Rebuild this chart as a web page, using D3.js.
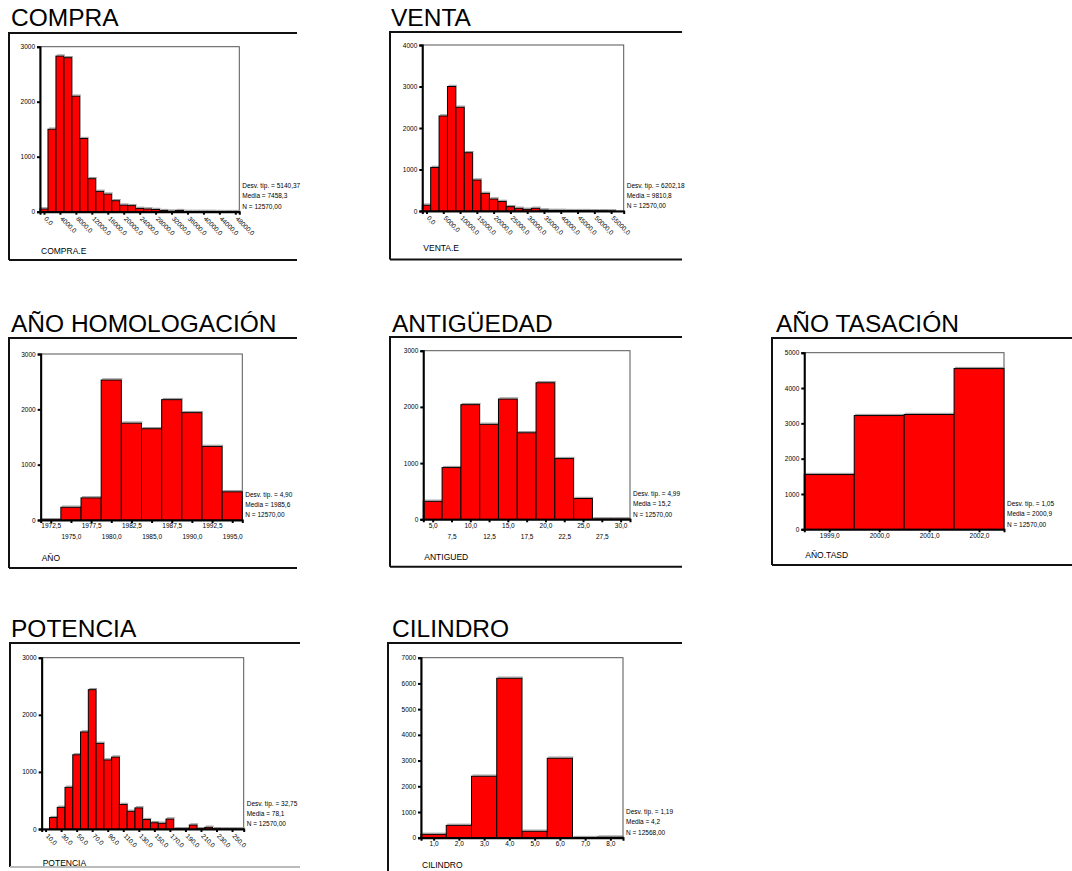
<!DOCTYPE html>
<html><head><meta charset="utf-8">
<script src="https://cdn.jsdelivr.net/npm/d3@7"></script>
<style>
body{margin:0;background:#fff;}
svg text{font-family:"Liberation Sans",Arial,sans-serif;fill:#000;}
</style>
</head><body>
<svg id="chart" width="1072" height="871"></svg>
<script>
// ---------------- DATA ----------------
const compraBins   = [0,2000,4000,6000,8000,10000,12000,14000,16000,18000,20000,22000,24000,26000,28000,30000,32000,34000,36000,38000,40000,42000,44000,46000,48000];
const compraCounts = [50,1500,2830,2800,2100,1330,600,370,320,200,120,110,60,50,40,20,10,20,5,5,5,5,3,2,2];
const compraTicks  = [0,4000,8000,12000,16000,20000,24000,28000,32000,36000,40000,44000,48000];
const compraYTicks = [0,1000,2000,3000];
const compraStats  = ["Desv. típ. = 5140,37","Media = 7458,3","N = 12570,00"];

const ventaBins   = [0,2500,5000,7500,10000,12500,15000,17500,20000,22500,25000,27500,30000,32500,35000,37500,40000,42500,45000,47500,50000,52500,55000,57500];
const ventaCounts = [140,1050,2290,3000,2500,1405,747,425,290,230,105,65,40,65,25,15,15,10,10,10,5,5,2,0];
const ventaTicks  = [0,5000,10000,15000,20000,25000,30000,35000,40000,45000,50000,55000];
const ventaYTicks = [0,1000,2000,3000,4000];
const ventaStats  = ["Desv. típ. = 6202,18","Media = 9810,8","N = 12570,00"];

const anioBins   = [1972.5,1975,1977.5,1980,1982.5,1985,1987.5,1990,1992.5,1995];
const anioCounts = [5,230,400,2530,1750,1650,2175,1940,1330,510];
const anioYTicks = [0,1000,2000,3000];
const anioStats  = ["Desv. típ. = 4,90","Media = 1985,6","N = 12570,00"];

const antigBins   = [5,7.5,10,12.5,15,17.5,20,22.5,25,27.5,30];
const antigCounts = [320,920,2040,1690,2140,1540,2430,1080,370,8,8];
const antigYTicks = [0,1000,2000,3000];
const antigStats  = ["Desv. típ. = 4,99","Media = 15,2","N = 12570,00"];

const tasBins   = [1999,2000,2001,2002];
const tasCounts = [1550,3220,3250,4550];
const tasYTicks = [0,1000,2000,3000,4000,5000];
const tasStats  = ["Desv. típ. = 1,05","Media = 2000,9","N = 12570,00"];

const potBins   = [10,20,30,40,50,60,70,80,90,100,110,120,130,140,150,160,170,180,190,200,210,220,230,240,250,260];
const potCounts = [0,200,380,730,1300,1700,2440,1500,1210,1260,430,310,370,165,110,100,175,5,5,70,5,30,5,3,3,2];
const potTicks  = [10,30,50,70,90,110,130,150,170,190,210,230,250];
const potYTicks = [0,1000,2000,3000];
const potStats  = ["Desv. típ. = 32,75","Media = 78,1","N = 12570,00"];

const cilBins   = [1,2,3,4,5,6,7,8];
const cilCounts = [130,480,2390,6200,250,3090,5,23];
const cilYTicks = [0,1000,2000,3000,4000,5000,6000,7000];
const cilStats  = ["Desv. típ. = 1,19","Media = 4,2","N = 12568,00"];

// ---------------- LAYOUT ----------------
const panels = [
  {title:"COMPRA", axisTitle:"COMPRA.E", bins:compraBins, counts:compraCounts, ticks:compraTicks, yTicks:compraYTicks, stats:compraStats, mode:"rot",
   titlePos:[11,26], box:[9,33,297,260], plot:[40,46.7,239.3,211.7], atY:253.5},
  {title:"VENTA", axisTitle:"VENTA.E", bins:ventaBins, counts:ventaCounts, ticks:ventaTicks, yTicks:ventaYTicks, stats:ventaStats, mode:"rot",
   titlePos:[391,26], box:[390,32,682,259.5], plot:[422.3,45,623.7,211], atY:251},
  {title:"AÑO HOMOLOGACIÓN", axisTitle:"AÑO", bins:anioBins, counts:anioCounts, ticks:anioBins, yTicks:anioYTicks, stats:anioStats, mode:"alt",
   titlePos:[11,332], box:[9,338,297,568], plot:[40.7,354,242.3,520], atY:561},
  {title:"ANTIGÜEDAD", axisTitle:"ANTIGUED", bins:antigBins, counts:antigCounts, ticks:antigBins, yTicks:antigYTicks, stats:antigStats, mode:"alt",
   titlePos:[392,332], box:[390,337,682,566.7], plot:[423.3,350.7,630,519.3], atY:559.5},
  {title:"AÑO TASACIÓN", axisTitle:"AÑO.TASD", bins:tasBins, counts:tasCounts, ticks:tasBins, yTicks:tasYTicks, stats:tasStats, mode:"flat",
   titlePos:[776,332], box:[772,338,1072,565], plot:[804.3,352.7,1004,529.3], atY:558},
  {title:"POTENCIA", axisTitle:"POTENCIA", bins:potBins, counts:potCounts, ticks:potTicks, yTicks:potYTicks, stats:potStats, mode:"rot",
   titlePos:[11,637], box:[10,643,300,867], plot:[41.7,657.7,243.7,829], boxBottomColor:"#bbb", atY:865.5},
  {title:"CILINDRO", axisTitle:"CILINDRO", bins:cilBins, counts:cilCounts, ticks:cilBins, yTicks:cilYTicks, stats:cilStats, mode:"flat",
   titlePos:[392,637], box:[388,643,682,875], plot:[421,657.7,623,837.7], atY:868}
];

const svg = d3.select("#chart");
const fmtX = v => d3.format(".1f")(v).replace(".", ",");

panels.forEach(p => {
  const g = svg.append("g");
  const [bx0,by0,bx1,by1] = p.box;
  const [px0,py0,px1,py1] = p.plot;

  // title
  g.append("text").attr("x",p.titlePos[0]).attr("y",p.titlePos[1])
    .attr("font-size",24.5).text(p.title);

  // outer frame (left, top, bottom)
  g.append("path").attr("d",`M${bx1},${by0}H${bx0}V${by1}`)
    .attr("fill","none").attr("stroke","#111").attr("stroke-width",2);
  g.append("line").attr("x1",bx0).attr("x2",bx1).attr("y1",by1).attr("y2",by1)
    .attr("stroke",p.boxBottomColor||"#111").attr("stroke-width",2);

  const w = p.bins[1]-p.bins[0];
  const x = d3.scaleLinear()
    .domain([p.bins[0]-w/2, p.bins[p.bins.length-1]+w/2])
    .range([px0,px1]);
  const yMax = p.yTicks[p.yTicks.length-1];
  const y = d3.scaleLinear().domain([0,yMax]).range([py1,py0]);

  // plot frame
  g.append("rect").attr("x",px0).attr("y",py0).attr("width",px1-px0).attr("height",py1-py0)
    .attr("fill","none").attr("stroke","#555").attr("stroke-width",1);

  const data = p.bins.map((b,i)=>({b, c:p.counts[i]}));
  // shadows
  g.selectAll(".sh").data(data.filter(d=>d.c>0)).enter().append("line")
    .attr("x1",d=>x(d.b-w/2)+1).attr("x2",d=>x(d.b+w/2)+1)
    .attr("y1",d=>y(d.c)-1.2).attr("y2",d=>y(d.c)-1.2)
    .attr("stroke","#999").attr("stroke-width",1);
  // bars
  g.selectAll(".bar").data(data.filter(d=>d.c>0)).enter().append("rect")
    .attr("x",d=>x(d.b-w/2)).attr("width",d=>x(d.b+w/2)-x(d.b-w/2))
    .attr("y",d=>y(d.c)).attr("height",d=>y(0)-y(d.c))
    .attr("fill","#ff0000").attr("stroke","#000").attr("stroke-width",1);

  // y axis
  const ya = g.append("g").attr("transform",`translate(${px0},0)`)
    .call(d3.axisLeft(y).tickValues(p.yTicks).tickSize(3).tickPadding(2).tickFormat(d3.format("d")));
  ya.select(".domain").attr("stroke","#000").attr("stroke-width",2);
  ya.selectAll(".tick line").attr("stroke","#000").attr("stroke-width",2);
  ya.selectAll(".tick text").attr("font-size",6.5).attr("font-family","Liberation Sans, Arial, sans-serif");

  // x axis
  const xa = g.append("g").attr("transform",`translate(0,${py1})`)
    .call(d3.axisBottom(x).tickValues(p.ticks).tickSize(3).tickFormat(fmtX));
  xa.select(".domain").attr("stroke","#000").attr("stroke-width",2);
  xa.selectAll(".tick line").attr("stroke","#000").attr("stroke-width",2);
  const tt = xa.selectAll(".tick text").attr("font-size",6.5).attr("font-family","Liberation Sans, Arial, sans-serif");
  if (p.mode==="rot") {
    tt.attr("text-anchor","start").attr("dy","0.35em").attr("y",0)
      .attr("transform","translate(1,6) rotate(45)");
  } else if (p.mode==="alt") {
    tt.attr("dy","0.35em").attr("y",(d,i)=> i%2===0 ? 6 : 17);
  } else {
    tt.attr("dy","0.35em").attr("y",6);
  }

  // stats
  const offs = [-23.5,-13.5,-2.8];
  p.stats.forEach((s,i)=>{
    g.append("text").attr("x",px1+3).attr("y",py1+offs[i]).attr("font-size",6.5).text(s);
  });

  // axis title
  g.append("text").attr("x",px0+1).attr("y",p.atY)
    .attr("font-size",8.5).text(p.axisTitle);
});
</script>
</body></html>
